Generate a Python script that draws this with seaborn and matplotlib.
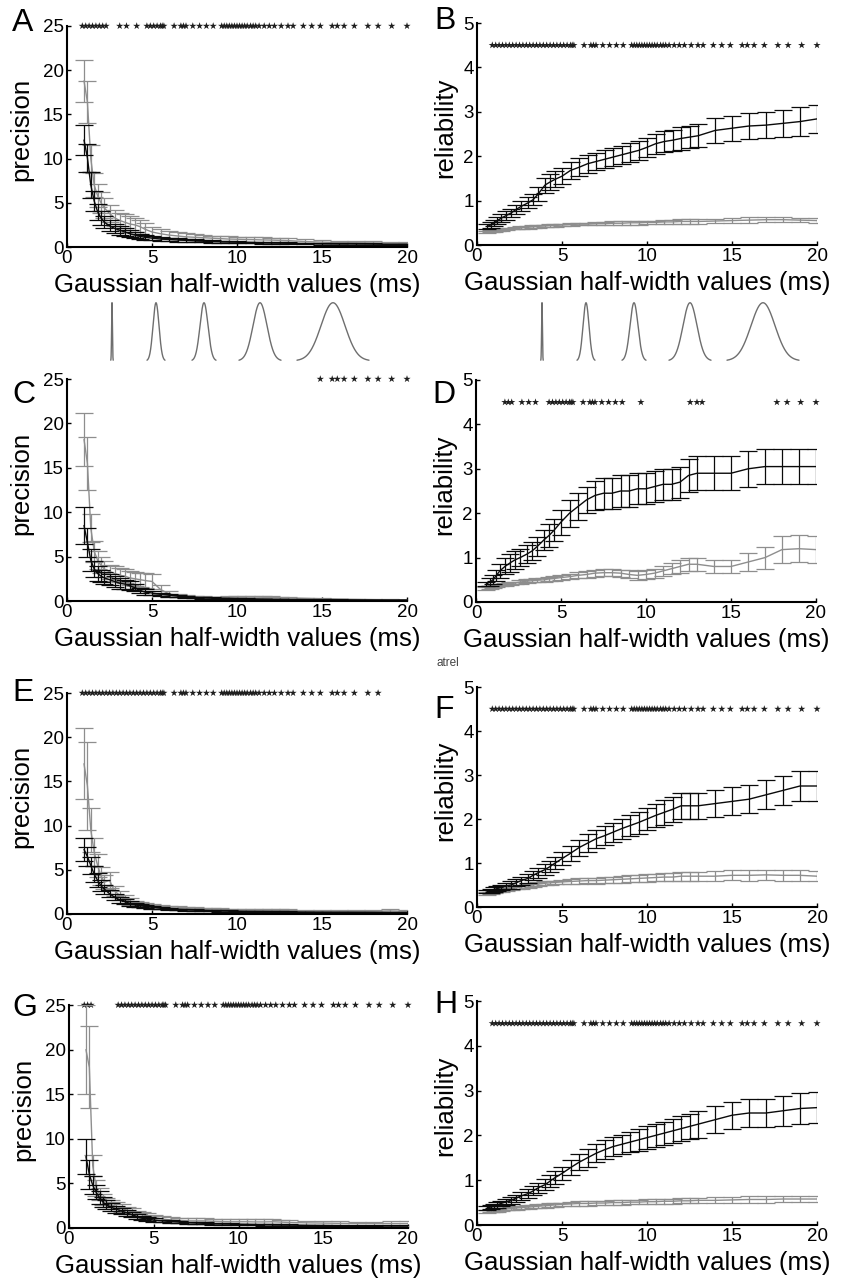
import numpy as np
import seaborn as sns
import matplotlib.pyplot as plt

# half-width grids (ms)
x_prec = [1.0, 1.2, 1.4, 1.6, 1.8, 2.0, 2.2,
          2.5, 2.8, 3.1, 3.4, 3.7, 4.0, 4.3, 4.6, 5.0,
          5.5, 6.0, 6.5, 7.0, 7.5, 8.0, 8.5, 9.0, 9.5,
          10.0, 10.5, 11.0, 11.5, 12.0, 12.5, 13.0,
          14.0, 15.0, 16.0, 17.0, 18.0, 19.0, 20.0]
x_rel = [0.6, 0.8, 1.0, 1.2, 1.4, 1.7, 2.0,
         2.3, 2.6, 3.0, 3.3, 3.6, 4.0, 4.3, 4.6, 5.0,
         5.5, 6.0, 6.5, 7.0, 7.5, 8.0, 8.5, 9.0, 9.5,
         10.0, 10.5, 11.0, 11.5, 12.0, 12.5, 13.0,
         14.0, 15.0, 16.0, 17.0, 18.0, 19.0, 20.0]

# positions where significance stars can sit
star_grid = [0.9, 1.1, 1.3, 1.5, 1.7, 1.9, 2.1, 2.3, 2.5, 2.7, 2.9, 3.1, 3.3, 3.5, 3.7, 3.9,
             4.1, 4.3, 4.5, 4.7, 4.9, 5.1, 5.3,
             5.5, 5.6, 5.7, 6.3, 6.7, 6.85, 7.0, 7.4, 7.8, 8.2, 8.6,
             9.1, 9.25, 9.4, 9.55, 9.7, 9.85, 10.0, 10.15, 10.3, 10.45, 10.6,
             10.8, 10.95, 11.1, 11.3, 11.6, 11.9, 12.2, 12.6, 13.0, 13.3,
             13.9, 14.4, 14.9, 15.6, 15.9, 16.3, 16.9, 17.7, 18.3, 19.1, 20.0]

# A - precision
a_gray = [18.8, 16.4, 10.0, 7.0, 5.8, 5.0, 4.4,
          3.8, 3.3, 3.0, 2.8, 2.6, 2.5, 2.3, 2.0, 1.7,
          1.5, 1.35, 1.25, 1.15, 1.1, 1.05, 1.0, 0.95, 0.9,
          0.88, 0.85, 0.83, 0.8, 0.78, 0.75, 0.72,
          0.62, 0.55, 0.5, 0.48, 0.45, 0.42, 0.4]
a_gray_err = [2.4, 2.4, 1.5, 1.4, 1.3, 1.2, 1.1,
              1.0, 0.9, 0.9, 0.9, 0.9, 0.8, 0.8, 0.7, 0.6,
              0.5, 0.45, 0.4, 0.4, 0.35, 0.35, 0.3, 0.3, 0.3,
              0.3, 0.3, 0.3, 0.3, 0.28, 0.28, 0.28,
              0.25, 0.22, 0.2, 0.2, 0.18, 0.18, 0.18]
a_black = [12.1, 10.1, 7.0, 5.2, 4.0, 3.3, 2.8,
           2.4, 2.1, 1.9, 1.7, 1.5, 1.35, 1.2, 1.1, 1.0,
           0.9, 0.85, 0.8, 0.75, 0.7, 0.66, 0.62, 0.6, 0.57,
           0.55, 0.52, 0.5, 0.48, 0.46, 0.44, 0.42,
           0.4, 0.37, 0.35, 0.33, 0.32, 0.3, 0.3]
a_black_err = [1.7, 1.6, 1.5, 1.1, 0.9, 0.8, 0.7,
               0.6, 0.55, 0.5, 0.45, 0.4, 0.35, 0.3, 0.3, 0.25,
               0.22, 0.2, 0.18, 0.16, 0.15, 0.14, 0.13, 0.12, 0.12,
               0.11, 0.1, 0.1, 0.1, 0.1, 0.1, 0.1,
               0.09, 0.09, 0.08, 0.08, 0.08, 0.08, 0.08]
a_stars = [(0.9, 2.3), (3.1, 3.1), (3.5, 3.5), (4.1, 4.1), (4.7, 20.0)]

# B - reliability
b_gray = [0.3, 0.31, 0.32, 0.33, 0.34, 0.36, 0.37,
          0.38, 0.39, 0.4, 0.41, 0.42, 0.43, 0.44, 0.44, 0.45,
          0.46, 0.47, 0.47, 0.48, 0.48, 0.49, 0.49, 0.5, 0.5,
          0.51, 0.51, 0.52, 0.52, 0.53, 0.53, 0.53,
          0.54, 0.55, 0.56, 0.57, 0.57, 0.56, 0.55]
b_gray_err = [0.02, 0.02, 0.02, 0.02, 0.02, 0.02, 0.02,
              0.03, 0.03, 0.03, 0.03, 0.03, 0.03, 0.03, 0.03, 0.03,
              0.03, 0.03, 0.03, 0.03, 0.03, 0.04, 0.04, 0.04, 0.04,
              0.04, 0.04, 0.05, 0.05, 0.05, 0.05, 0.05,
              0.05, 0.05, 0.06, 0.06, 0.06, 0.05, 0.05]
b_black = [0.42, 0.45, 0.5, 0.55, 0.6, 0.66, 0.72,
           0.8, 0.87, 0.95, 1.02, 1.15, 1.35, 1.42, 1.48, 1.55,
           1.68, 1.75, 1.83, 1.88, 1.93, 1.98, 2.03, 2.08, 2.13,
           2.2, 2.28, 2.33, 2.36, 2.4, 2.43, 2.46,
           2.58, 2.63, 2.68, 2.7, 2.74, 2.78, 2.84]
b_black_err = [0.05, 0.06, 0.07, 0.08, 0.09, 0.1, 0.1,
               0.1, 0.11, 0.12, 0.12, 0.15, 0.17, 0.17, 0.18, 0.18,
               0.2, 0.2, 0.2, 0.2, 0.2, 0.21, 0.21, 0.22, 0.22,
               0.22, 0.23, 0.24, 0.24, 0.25, 0.25, 0.26,
               0.28, 0.28, 0.3, 0.3, 0.3, 0.32, 0.32]
b_stars = [(0.9, 20.0)]

# C - precision
c_gray = [18.2, 15.5, 8.2, 5.6, 4.6, 4.0, 3.6,
          3.3, 3.1, 2.9, 2.8, 2.6, 2.5, 2.4, 2.3, 2.2,
          1.3, 0.8, 0.6, 0.5, 0.45, 0.42, 0.4, 0.4, 0.42,
          0.45, 0.45, 0.45, 0.42, 0.4, 0.38, 0.35,
          0.3, 0.25, 0.2, 0.18, 0.15, 0.13, 0.12]
c_gray_err = [3.0, 3.0, 1.6, 1.2, 1.0, 0.9, 0.9,
              0.8, 0.8, 0.8, 0.8, 0.8, 0.8, 0.8, 0.8, 0.8,
              0.5, 0.3, 0.2, 0.15, 0.12, 0.1, 0.1, 0.1, 0.12,
              0.15, 0.15, 0.15, 0.12, 0.12, 0.1, 0.1,
              0.08, 0.07, 0.06, 0.05, 0.05, 0.04, 0.04]
c_black = [8.5, 6.6, 4.6, 3.6, 3.1, 2.8, 2.6,
           2.4, 2.2, 2.0, 1.9, 1.7, 1.5, 1.2, 1.0, 0.9,
           0.75, 0.65, 0.55, 0.45, 0.4, 0.35, 0.32, 0.3, 0.28,
           0.26, 0.24, 0.22, 0.2, 0.19, 0.18, 0.17,
           0.15, 0.14, 0.13, 0.12, 0.11, 0.1, 0.1]
c_black_err = [2.1, 1.6, 1.2, 0.9, 0.8, 0.7, 0.7,
               0.6, 0.6, 0.6, 0.5, 0.5, 0.4, 0.3, 0.3, 0.25,
               0.2, 0.18, 0.15, 0.12, 0.1, 0.1, 0.08, 0.08, 0.07,
               0.07, 0.06, 0.06, 0.05, 0.05, 0.05, 0.05,
               0.04, 0.04, 0.04, 0.04, 0.04, 0.04, 0.04]
c_stars = [(14.9, 20.0)]

# D - reliability
d_gray = [0.3, 0.32, 0.34, 0.36, 0.38, 0.4, 0.42,
          0.43, 0.45, 0.47, 0.48, 0.49, 0.5, 0.52, 0.53, 0.55,
          0.57, 0.6, 0.62, 0.65, 0.66, 0.66, 0.65, 0.62, 0.6,
          0.62, 0.65, 0.7, 0.75, 0.8, 0.85, 0.85,
          0.8, 0.8, 0.9, 1.0, 1.18, 1.2, 1.18]
d_gray_err = [0.03, 0.03, 0.03, 0.03, 0.03, 0.03, 0.03,
              0.03, 0.04, 0.04, 0.04, 0.05, 0.05, 0.05, 0.06, 0.06,
              0.06, 0.07, 0.07, 0.08, 0.08, 0.08, 0.08, 0.09, 0.1,
              0.1, 0.1, 0.12, 0.13, 0.14, 0.15, 0.15,
              0.15, 0.15, 0.2, 0.25, 0.3, 0.3, 0.3]
d_black = [0.4, 0.45, 0.5, 0.6, 0.7, 0.8, 0.88,
           0.95, 1.0, 1.08, 1.15, 1.25, 1.4, 1.5, 1.62, 1.8,
           2.0, 2.15, 2.3, 2.4, 2.45, 2.45, 2.5, 2.5, 2.55,
           2.55, 2.6, 2.65, 2.65, 2.7, 2.85, 2.9,
           2.9, 2.9, 3.0, 3.05, 3.05, 3.05, 3.05]
d_black_err = [0.05, 0.08, 0.1, 0.12, 0.15, 0.18, 0.2,
               0.2, 0.2, 0.2, 0.2, 0.22, 0.22, 0.25, 0.25, 0.28,
               0.3, 0.3, 0.3, 0.32, 0.35, 0.35, 0.35, 0.35, 0.35,
               0.35, 0.35, 0.35, 0.35, 0.35, 0.37, 0.38,
               0.38, 0.38, 0.4, 0.4, 0.4, 0.4, 0.4]
d_stars = [(1.7, 2.1), (2.7, 2.7), (3.1, 3.1), (3.5, 3.5), (4.3, 5.7), (6.3, 8.6),
           (9.7, 9.7), (12.6, 13.3), (17.7, 20.0)]

# E - precision
e_gray = [17.0, 14.5, 9.5, 7.0, 5.5, 4.3, 3.6,
          3.8, 2.6, 2.1, 1.7, 1.4, 1.2, 1.05, 0.95, 0.85,
          0.78, 0.72, 0.66, 0.6, 0.56, 0.52, 0.5, 0.48, 0.46,
          0.45, 0.44, 0.43, 0.42, 0.41, 0.4, 0.4,
          0.36, 0.34, 0.32, 0.3, 0.3, 0.35, 0.3]
e_gray_err = [4.0, 5.0, 2.5, 1.6, 1.3, 1.0, 0.8,
              0.9, 0.6, 0.5, 0.4, 0.4, 0.3, 0.3, 0.3, 0.25,
              0.22, 0.2, 0.2, 0.18, 0.18, 0.16, 0.15, 0.15, 0.15,
              0.15, 0.15, 0.14, 0.14, 0.14, 0.14, 0.14,
              0.14, 0.13, 0.13, 0.13, 0.13, 0.2, 0.13]
e_black = [7.3, 6.5, 5.5, 4.5, 3.8, 3.2, 2.8,
           2.3, 1.9, 1.6, 1.4, 1.2, 1.05, 0.95, 0.85, 0.75,
           0.65, 0.58, 0.52, 0.48, 0.44, 0.4, 0.37, 0.35, 0.33,
           0.31, 0.29, 0.28, 0.27, 0.26, 0.25, 0.24,
           0.22, 0.21, 0.2, 0.19, 0.18, 0.17, 0.16]
e_black_err = [1.3, 1.1, 1.0, 0.9, 0.8, 0.6, 0.5,
               0.4, 0.35, 0.3, 0.28, 0.25, 0.22, 0.2, 0.18, 0.16,
               0.14, 0.12, 0.1, 0.1, 0.09, 0.08, 0.08, 0.07, 0.07,
               0.06, 0.06, 0.06, 0.06, 0.06, 0.06, 0.06,
               0.05, 0.05, 0.05, 0.05, 0.05, 0.05, 0.05]
e_stars = [(0.9, 18.3)]

# F - reliability
f_gray = [0.3, 0.32, 0.34, 0.36, 0.38, 0.4, 0.42,
          0.44, 0.46, 0.48, 0.5, 0.52, 0.54, 0.55, 0.56, 0.57,
          0.58, 0.59, 0.6, 0.6, 0.61, 0.62, 0.63, 0.64, 0.65,
          0.66, 0.67, 0.68, 0.68, 0.7, 0.7, 0.7,
          0.7, 0.72, 0.72, 0.73, 0.72, 0.72, 0.7]
f_gray_err = [0.03, 0.03, 0.03, 0.03, 0.03, 0.03, 0.03,
              0.04, 0.04, 0.04, 0.04, 0.04, 0.04, 0.04, 0.04, 0.04,
              0.06, 0.06, 0.06, 0.07, 0.07, 0.07, 0.08, 0.08, 0.08,
              0.09, 0.09, 0.1, 0.1, 0.1, 0.1, 0.1,
              0.11, 0.11, 0.12, 0.12, 0.12, 0.12, 0.12]
f_black = [0.35, 0.37, 0.4, 0.42, 0.45, 0.48, 0.5,
           0.55, 0.6, 0.65, 0.72, 0.78, 0.85, 0.92, 1.0, 1.1,
           1.22, 1.35, 1.45, 1.55, 1.62, 1.7, 1.78, 1.85, 1.92,
           2.0, 2.08, 2.15, 2.22, 2.3, 2.3, 2.3,
           2.35, 2.4, 2.45, 2.55, 2.65, 2.75, 2.75]
f_black_err = [0.04, 0.05, 0.05, 0.06, 0.06, 0.07, 0.08,
               0.08, 0.09, 0.1, 0.1, 0.11, 0.12, 0.13, 0.14, 0.15,
               0.17, 0.18, 0.2, 0.2, 0.22, 0.22, 0.23, 0.24, 0.25,
               0.26, 0.27, 0.28, 0.28, 0.3, 0.3, 0.3,
               0.3, 0.32, 0.32, 0.33, 0.33, 0.35, 0.35]
f_stars = [(0.9, 20.0)]

# G - precision
g_gray = [20.0, 18.0, 7.0, 4.5, 3.8, 3.2, 2.9,
          2.6, 2.4, 2.2, 2.0, 1.8, 1.6, 1.5, 1.4, 1.2,
          1.0, 0.9, 0.85, 0.8, 0.8, 0.8, 0.75, 0.72, 0.7,
          0.7, 0.7, 0.68, 0.68, 0.7, 0.66, 0.62,
          0.58, 0.55, 0.52, 0.5, 0.5, 0.5, 0.5]
g_gray_err = [5.0, 4.6, 1.2, 0.9, 0.7, 0.6, 0.5,
              0.5, 0.5, 0.45, 0.4, 0.4, 0.35, 0.3, 0.3, 0.3,
              0.3, 0.3, 0.3, 0.3, 0.3, 0.3, 0.28, 0.28, 0.28,
              0.28, 0.28, 0.28, 0.28, 0.3, 0.28, 0.26,
              0.25, 0.24, 0.22, 0.22, 0.22, 0.25, 0.25]
g_black = [8.0, 6.0, 4.8, 4.0, 3.4, 2.9, 2.6,
           2.3, 2.1, 1.9, 1.7, 1.5, 1.3, 1.1, 1.0, 0.9,
           0.8, 0.72, 0.66, 0.6, 0.56, 0.52, 0.48, 0.46, 0.44,
           0.42, 0.4, 0.38, 0.36, 0.35, 0.34, 0.33,
           0.3, 0.28, 0.26, 0.25, 0.24, 0.22, 0.22]
g_black_err = [2.0, 1.6, 1.0, 0.8, 0.7, 0.6, 0.5,
               0.45, 0.4, 0.35, 0.3, 0.28, 0.25, 0.2, 0.2, 0.18,
               0.15, 0.14, 0.12, 0.12, 0.1, 0.1, 0.1, 0.1, 0.09,
               0.08, 0.08, 0.08, 0.08, 0.08, 0.08, 0.08,
               0.07, 0.07, 0.07, 0.07, 0.07, 0.07, 0.07]
g_stars = [(0.9, 1.3), (2.9, 20.0)]

# H - reliability
h_gray = [0.3, 0.31, 0.32, 0.33, 0.34, 0.36, 0.37,
          0.38, 0.39, 0.4, 0.41, 0.42, 0.43, 0.44, 0.45, 0.46,
          0.47, 0.48, 0.48, 0.49, 0.49, 0.5, 0.5, 0.51, 0.51,
          0.52, 0.52, 0.53, 0.53, 0.54, 0.54, 0.55,
          0.55, 0.56, 0.57, 0.57, 0.58, 0.58, 0.58]
h_gray_err = [0.03, 0.03, 0.03, 0.03, 0.03, 0.03, 0.03,
              0.04, 0.04, 0.04, 0.04, 0.04, 0.04, 0.04, 0.04, 0.04,
              0.05, 0.05, 0.05, 0.05, 0.05, 0.05, 0.05, 0.05, 0.05,
              0.06, 0.06, 0.06, 0.06, 0.06, 0.06, 0.06,
              0.07, 0.07, 0.07, 0.07, 0.07, 0.07, 0.07]
h_black = [0.38, 0.4, 0.42, 0.45, 0.48, 0.52, 0.55,
           0.6, 0.65, 0.7, 0.76, 0.83, 0.9, 0.98, 1.06, 1.15,
           1.28, 1.4, 1.5, 1.6, 1.68, 1.75, 1.8, 1.85, 1.9,
           1.95, 2.0, 2.05, 2.1, 2.15, 2.2, 2.25,
           2.35, 2.45, 2.5, 2.5, 2.55, 2.6, 2.62]
h_black_err = [0.04, 0.05, 0.05, 0.06, 0.06, 0.07, 0.08,
               0.08, 0.09, 0.1, 0.1, 0.11, 0.12, 0.13, 0.14, 0.15,
               0.17, 0.18, 0.2, 0.2, 0.21, 0.22, 0.22, 0.23, 0.24,
               0.25, 0.25, 0.26, 0.27, 0.28, 0.28, 0.3,
               0.3, 0.3, 0.32, 0.32, 0.33, 0.34, 0.35]
h_stars = [(0.9, 20.0)]

# gaussian kernel sketches (pixel offsets and widths)
kernel_pos = [7, 51, 99, 155, 228]
kernel_sigma = [0.4, 3.0, 4.0, 7.0, 12.0]

GRAY = '#8e8e8e'
BLACK = '#0a0a0a'

sns.set_theme(style='white')
plt.rcParams['font.family'] = ['Liberation Sans', 'DejaVu Sans']
plt.rcParams['text.color'] = 'black'
plt.rcParams['axes.labelcolor'] = 'black'
plt.rcParams['xtick.color'] = 'black'
plt.rcParams['ytick.color'] = 'black'

W, H = 848, 1282
fig = plt.figure(figsize=(W / 100, H / 100), dpi=100)


def px_axes(left, top, right, bottom):
    return fig.add_axes([left / W, 1 - bottom / H, (right - left) / W, (bottom - top) / H])


panels = [
    ('A', 'precision', x_prec, a_gray, a_gray_err, a_black, a_black_err, a_stars, (67, 26, 407, 247), (12, 8)),
    ('B', 'reliability', x_rel, b_gray, b_gray_err, b_black, b_black_err, b_stars, (477, 23, 817, 245), (434, 6)),
    ('C', 'precision', x_prec, c_gray, c_gray_err, c_black, c_black_err, c_stars, (67, 379, 407, 601), (12, 380)),
    ('D', 'reliability', x_rel, d_gray, d_gray_err, d_black, d_black_err, d_stars, (476, 380, 816, 602), (432, 380)),
    ('E', 'precision', x_prec, e_gray, e_gray_err, e_black, e_black_err, e_stars, (67, 693, 407, 914), (12, 678)),
    ('F', 'reliability', x_rel, f_gray, f_gray_err, f_black, f_black_err, f_stars, (477, 687, 817, 907), (434, 695)),
    ('G', 'precision', x_prec, g_gray, g_gray_err, g_black, g_black_err, g_stars, (69, 1005, 408, 1228), (12, 993)),
    ('H', 'reliability', x_rel, h_gray, h_gray_err, h_black, h_black_err, h_stars, (477, 1001, 817, 1225), (434, 990)),
]

for letter, kind, x, gray, gray_err, black, black_err, stars, rect, lpos in panels:
    ax = px_axes(*rect)
    top = 25 if kind == 'precision' else 5
    star_y = 25 if kind == 'precision' else 4.5

    for mean, err, col in [(gray, gray_err, GRAY), (black, black_err, BLACK)]:
        ax.errorbar(x, mean, yerr=err, fmt='none', ecolor=col, elinewidth=0.9,
                    capsize=6.5, capthick=0.9)
        sns.lineplot(x=x, y=mean, color=col, linewidth=1.0, ax=ax)

    sx = [s for s in star_grid if any(lo - 1e-6 <= s <= hi + 1e-6 for lo, hi in stars)]
    sns.scatterplot(x=sx, y=[star_y] * len(sx), marker='*', s=30, color='#1e1e1e',
                    edgecolor='none', linewidth=0, clip_on=False, ax=ax)

    ax.set_xlim(0, 20)
    ax.set_ylim(0, top)
    ax.set_xticks([0, 5, 10, 15, 20])
    ax.set_yticks(list(range(0, 26, 5)) if kind == 'precision' else [0, 1, 2, 3, 4, 5])
    sns.despine(ax=ax)
    for sp in ['left', 'bottom']:
        ax.spines[sp].set_linewidth(1.5)
        ax.spines[sp].set_color('black')
    ax.tick_params(direction='in', length=3, width=1, labelsize=13.5, pad=2.5,
                   colors='black', left=True, bottom=True)

    w = rect[2] - rect[0]
    h = rect[3] - rect[1]
    ax.set_xlabel('Gaussian half-width values (ms)', fontsize=18.5)
    ax.xaxis.set_label_coords(0.5, -26 / h)
    ax.set_ylabel(kind, fontsize=18.5)
    ax.yaxis.set_label_coords(-34 / w if kind == 'precision' else -20 / w, 0.53)

    fig.text(lpos[0] / W, 1 - lpos[1] / H, letter, fontsize=23, va='top', ha='left')

# kernel shapes between the first two rows
for left in [105, 535]:
    kax = px_axes(left, 301, left + 265, 362)
    for c, sg in zip(kernel_pos, kernel_sigma):
        xs = np.linspace(c - 3 * sg, c + 3 * sg, 300)
        sns.lineplot(x=xs, y=np.exp(-0.5 * ((xs - c) / sg) ** 2), color='#6e6e6e',
                     linewidth=1.0, ax=kax)
    kax.set_xlim(0, 265)
    kax.set_ylim(-0.02, 1.03)
    kax.axis('off')

fig.text(448 / W, 1 - 663 / H, 'atrel', fontsize=8.5, color='#444444', ha='center', va='center')

fig.savefig('out.png', dpi=100)
